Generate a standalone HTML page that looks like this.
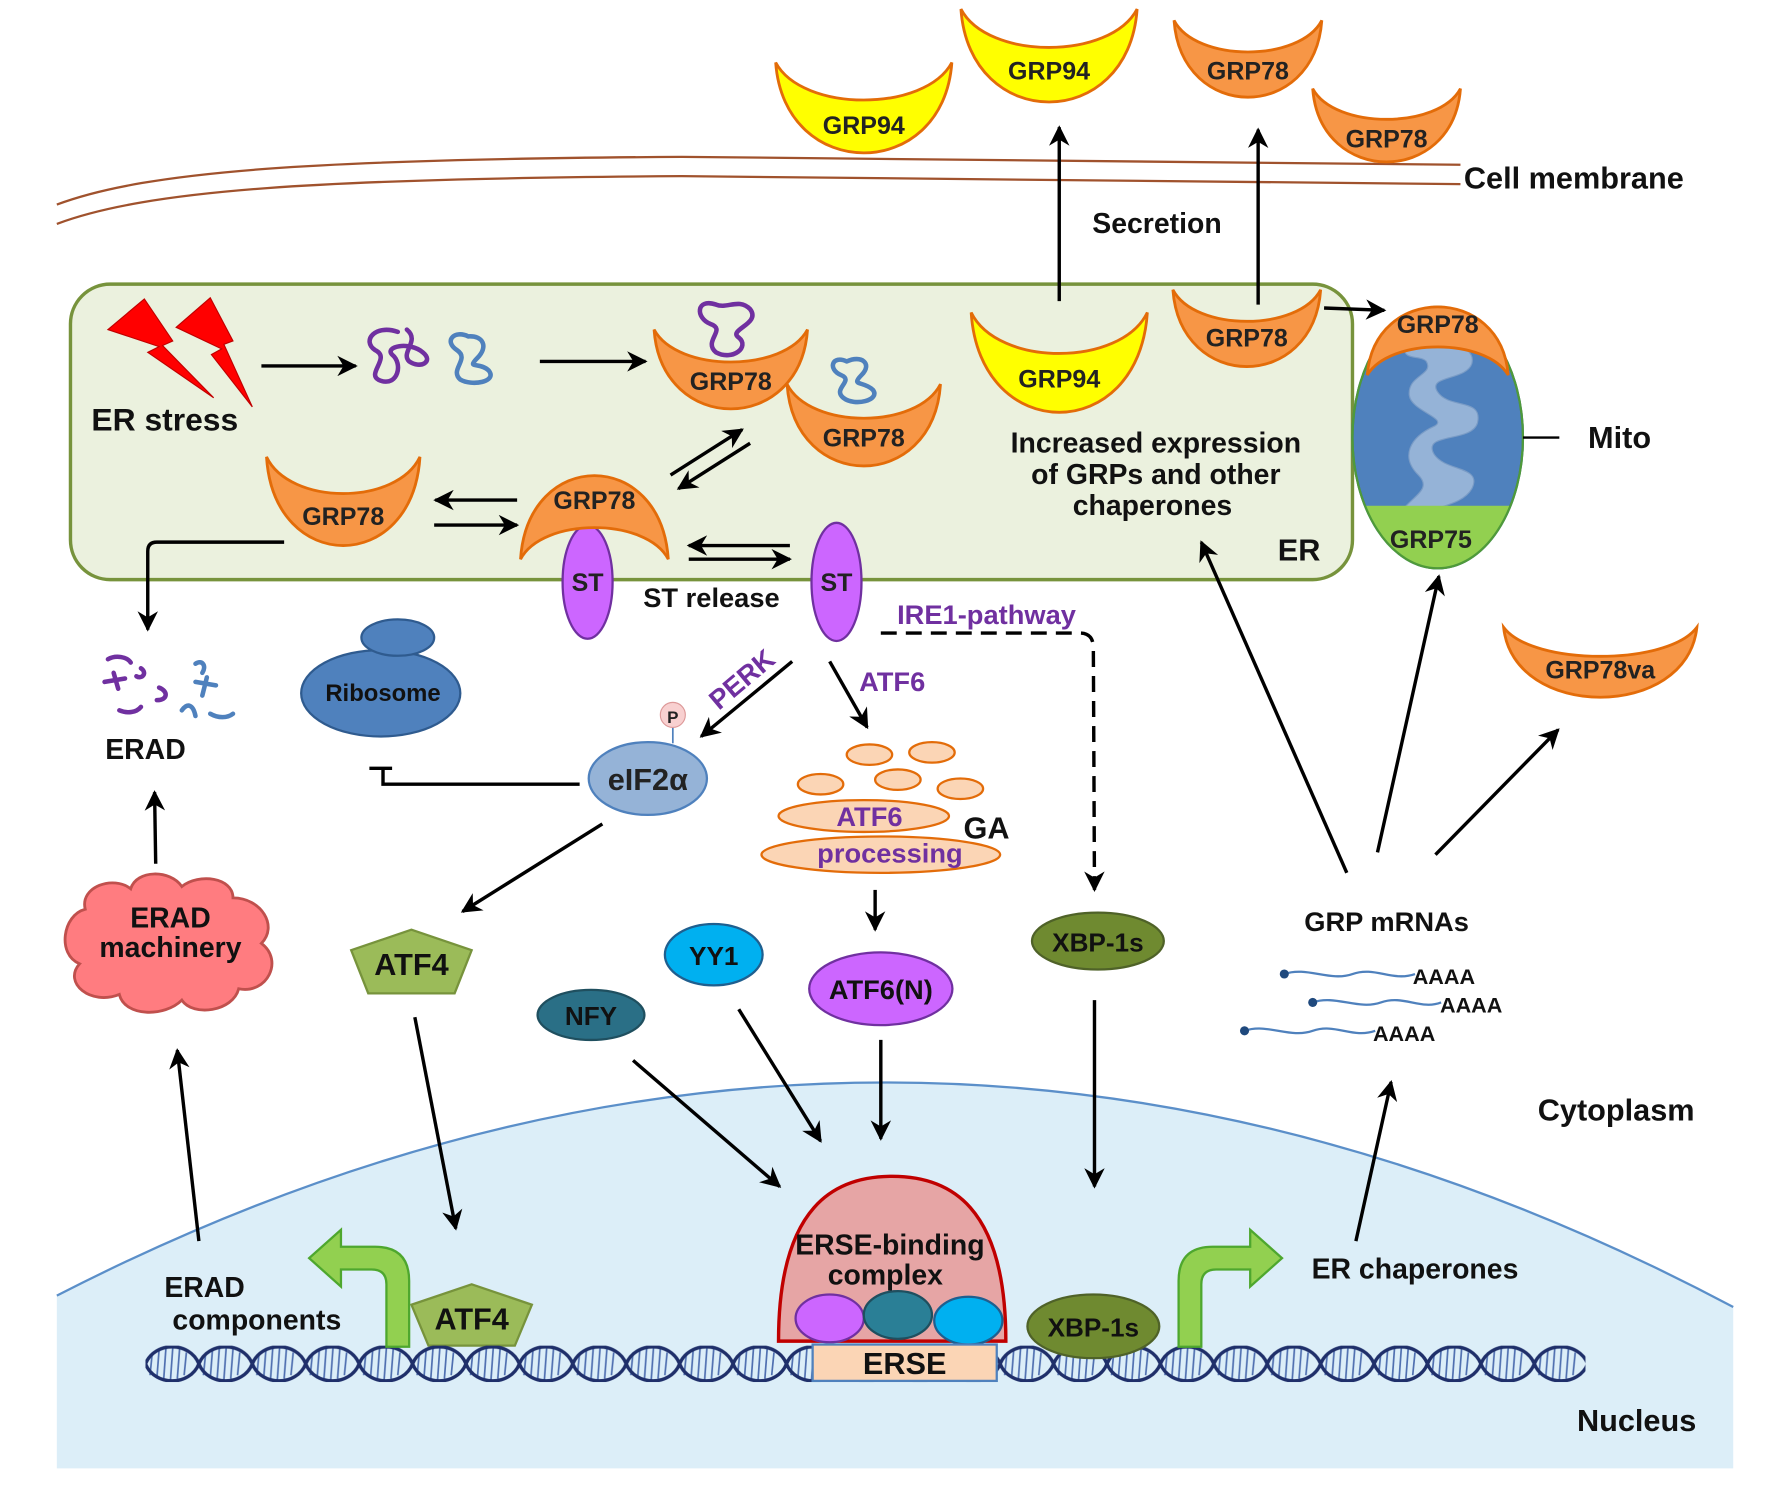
<!DOCTYPE html>
<html><head><meta charset="utf-8"><style>
html,body{margin:0;padding:0;background:#fff;}
svg{display:block;}
text{font-family:"Liberation Sans",sans-serif;font-weight:bold;}
</style></head><body>
<svg width="1773" height="1490" viewBox="0 0 1560 1311" preserveAspectRatio="none" xmlns="http://www.w3.org/2000/svg">
<defs>
<marker id="ah2" viewBox="0 0 10 10" refX="9" refY="5" markerWidth="7" markerHeight="6" orient="auto" markerUnits="strokeWidth"><path d="M0,0 L10,5 L0,10 L3,5Z" fill="#000"/></marker>
<pattern id="dna" x="128" y="1184" width="94" height="32" patternUnits="userSpaceOnUse">
<g stroke="#4f6fb0" stroke-width="1.5">
<line x1="6" y1="6" x2="4" y2="26"/><line x1="12" y1="3" x2="10" y2="29"/><line x1="18" y1="2" x2="16" y2="30"/><line x1="24" y1="2" x2="22" y2="30"/><line x1="30" y1="3" x2="28" y2="29"/><line x1="36" y1="6" x2="34" y2="26"/>
<line x1="53" y1="6" x2="51" y2="26"/><line x1="59" y1="3" x2="57" y2="29"/><line x1="65" y1="2" x2="63" y2="30"/><line x1="71" y1="2" x2="69" y2="30"/><line x1="77" y1="3" x2="75" y2="29"/><line x1="83" y1="6" x2="81" y2="26"/>
</g>
<path d="M0,16 C8,-4 39,-4 47,16 C55,36 86,36 94,16" fill="none" stroke="#1f2f6a" stroke-width="3"/>
<path d="M0,16 C8,36 39,36 47,16 C55,-4 86,-4 94,16" fill="none" stroke="#1f2f6a" stroke-width="3"/>
</pattern>
<clipPath id="mitoclip"><ellipse cx="1265" cy="385" rx="75" ry="115"/></clipPath>
</defs>

<!-- nucleus -->
<path d="M50,1140 Q790,760 1525,1150 L1525,1292 L50,1292Z" fill="#dceef8"/>
<path d="M50,1140 Q790,760 1525,1150" fill="none" stroke="#5b8fc9" stroke-width="2"/>

<!-- cell membrane -->
<path d="M50,180 C130,150 280,140 600,138 L1285,145" fill="none" stroke="#a0522d" stroke-width="2"/>
<path d="M50,197 C130,167 280,157 600,155 L1285,162" fill="none" stroke="#a0522d" stroke-width="2"/>
<text x="1288" y="166" font-size="27" fill="#111">Cell membrane</text>

<!-- ER -->
<rect x="62" y="250" width="1128" height="260" rx="35" fill="#ebf1de" stroke="#77933c" stroke-width="3"/>
<text x="1143" y="493" font-size="27" fill="#111" text-anchor="middle">ER</text>

<!-- crescents -->
<g stroke="#e36c09" stroke-width="2.5">
<path d="M682.5,55 C690,161 830,161 837.5,55 C814,99 706,99 682.5,55Z" fill="#ffff00"/>
<path d="M845.5,8 C853,117 993,117 1000.5,8 C977,53 869,53 845.5,8Z" fill="#ffff00"/>
<path d="M1033,18 C1039.5,108 1156.5,108 1163,18 C1143.5,55 1052.5,55 1033,18Z" fill="#f79646"/>
<path d="M1155,78 C1161.5,164 1278.5,164 1285,78 C1265.5,114 1174.5,114 1155,78Z" fill="#f79646"/>
<path d="M575.5,290 C582,383 704,383 710.5,290 C690,328 596,328 575.5,290Z" fill="#f79646"/>
<path d="M692.5,338 C699,434 821,434 827.5,338 C807,378 713,378 692.5,338Z" fill="#f79646"/>
<path d="M854.5,275 C862,392 1002,392 1009.5,275 C986,323 878,323 854.5,275Z" fill="#ffff00"/>
<path d="M1032,255 C1038.5,345 1155.5,345 1162,255 C1142.5,292 1051.5,292 1032,255Z" fill="#f79646"/>
<path d="M234.5,402 C241,506 363,506 369.5,402 C349,445 255,445 234.5,402Z" fill="#f79646"/>
<path d="M1323,552 C1331.5,634 1484.5,634 1493,552 C1467.5,586 1348.5,586 1323,552Z" fill="#f79646"/>
</g>
<g font-size="22" fill="#222" text-anchor="middle">
<text x="760" y="118">GRP94</text>
<text x="923" y="70">GRP94</text>
<text x="1098" y="70">GRP78</text>
<text x="1220" y="130">GRP78</text>
<text x="643" y="343">GRP78</text>
<text x="760" y="393">GRP78</text>
<text x="932" y="341">GRP94</text>
<text x="1097" y="305">GRP78</text>
<text x="302" y="462">GRP78</text>
<text x="1408" y="597">GRP78va</text>
</g>

<!-- mito -->
<ellipse cx="1265" cy="385" rx="75" ry="115" fill="#4f81bd" stroke="#3a6a9e" stroke-width="2"/>
<path d="M1235,305 C1260,300 1300,300 1295,320 C1290,335 1255,330 1265,345 C1275,360 1305,350 1300,372 C1295,390 1250,380 1262,400 C1272,415 1305,410 1295,430 C1285,448 1250,445 1245,460 L1230,455 C1238,438 1262,432 1248,418 C1232,402 1240,385 1262,375 C1275,368 1242,362 1240,348 C1238,330 1262,330 1255,318 C1250,312 1235,318 1235,305Z" fill="#95b3d7" stroke="#7a9cc6"/>
<rect x="1180" y="445" width="170" height="70" fill="#92d050" clip-path="url(#mitoclip)"/>
<ellipse cx="1265" cy="385" rx="75" ry="115" fill="none" stroke="#4f9a3a" stroke-width="2"/>
<text x="1259" y="482" font-size="22" fill="#222" text-anchor="middle">GRP75</text>
<path d="M1203,330 C1209,250 1321,250 1327,330 C1307,297 1223,297 1203,330Z" fill="#f79646" stroke="#e36c09" stroke-width="2.5"/>
<text x="1265" y="293" font-size="22" fill="#222" text-anchor="middle">GRP78</text>
<line x1="1340" y1="385" x2="1372" y2="385" stroke="#000" stroke-width="2"/>
<text x="1425" y="394" font-size="27" fill="#111" text-anchor="middle">Mito</text>

<!-- ST -->
<ellipse cx="517" cy="512" rx="22" ry="50" fill="#cc66ff" stroke="#7030a0" stroke-width="2"/>
<ellipse cx="736" cy="512" rx="22" ry="52" fill="#cc66ff" stroke="#7030a0" stroke-width="2"/>
<text x="517" y="520" font-size="22" fill="#222" text-anchor="middle">ST</text>
<text x="736" y="520" font-size="22" fill="#222" text-anchor="middle">ST</text>
<path d="M458,492 C464.5,394 581.5,394 588,492 C568.5,455 477.5,455 458,492Z" fill="#f79646" stroke="#e36c09" stroke-width="2.5"/>
<text x="523" y="448" font-size="22" fill="#222" text-anchor="middle">GRP78</text>

<!-- lightning -->
<polygon points="95,290 127,263 152,300 143,304 188,350 130,310 140,305" fill="#ff0000" stroke="#c00000"/>
<polygon points="155,288 185,262 205,300 197,303 222,358 186,312 195,307" fill="#ff0000" stroke="#c00000"/>
<text x="145" y="379" font-size="28" fill="#111" text-anchor="middle" font-weight="normal">ER stress</text>

<!-- proteins -->
<g fill="none" stroke-width="4" stroke-linecap="round">
<path d="M350,292 C330,285 318,300 330,308 C345,315 320,330 335,335 C350,340 355,320 345,312 C338,305 360,300 372,310 C382,318 370,325 360,318 C352,310 370,300 358,290" stroke="#7030a0"/>
<path d="M412,296 C400,290 390,300 402,308 C414,316 395,325 405,334 C415,340 438,336 430,326 C422,318 410,325 420,315 C430,305 425,295 412,296" stroke="#4f81bd"/>
<path d="M630,268 C612,262 612,280 625,285 C640,290 618,300 630,310 C645,318 660,305 650,297 C640,290 670,285 660,272 C650,262 640,272 630,268" stroke="#7030a0"/>
<path d="M745,318 C732,312 728,325 740,330 C752,335 732,342 742,350 C752,358 775,352 768,343 C760,335 748,340 758,330 C768,320 758,312 745,318" stroke="#4f81bd"/>
</g>
<!-- ERAD fragments -->
<g fill="none" stroke-width="4" stroke-linecap="round">
<path d="M95,580 C102,576 112,578 115,583" stroke="#7030a0"/>
<path d="M92,600 L110,597 M100,592 L104,606" stroke="#7030a0"/>
<path d="M124,588 C130,592 125,598 120,595" stroke="#7030a0"/>
<path d="M140,605 C148,608 148,616 138,616" stroke="#7030a0"/>
<path d="M105,625 C112,628 120,627 124,622" stroke="#7030a0"/>
<path d="M172,584 C178,580 182,586 178,592" stroke="#4f81bd"/>
<path d="M172,600 L190,603 M182,596 L178,612" stroke="#4f81bd"/>
<path d="M160,625 C165,618 170,620 172,630" stroke="#4f81bd"/>
<path d="M185,628 C192,632 200,632 205,628" stroke="#4f81bd"/>
</g>
<text x="128" y="668" font-size="25" fill="#111" text-anchor="middle" font-weight="normal">ERAD</text>

<!-- ribosome -->
<ellipse cx="335" cy="610" rx="70" ry="38" fill="#4f81bd" stroke="#2f5b8f" stroke-width="2"/>
<ellipse cx="350" cy="561" rx="32" ry="16" fill="#4f81bd" stroke="#2f5b8f" stroke-width="2"/>
<text x="337" y="617" font-size="21" fill="#111" text-anchor="middle">Ribosome</text>

<!-- eIF2a -->
<ellipse cx="570" cy="685" rx="52" ry="32" fill="#95b3d7" stroke="#4f81bd" stroke-width="2"/>
<text x="570" y="695" font-size="27" fill="#222" text-anchor="middle">eIF2α</text>
<line x1="592" y1="640" x2="592" y2="654" stroke="#4f81bd" stroke-width="1.5"/>
<circle cx="592" cy="629" r="11" fill="#f8d0d0" stroke="#d99"/>
<text x="592" y="636" font-size="15" fill="#222" text-anchor="middle">P</text>
<path d="M510,690 L337,690 L337,676" fill="none" stroke="#000" stroke-width="3"/>
<line x1="325" y1="676" x2="345" y2="676" stroke="#000" stroke-width="3"/>

<!-- Golgi -->
<g fill="#fbd5b5" stroke="#e36c09" stroke-width="2">
<ellipse cx="765" cy="664" rx="20" ry="9"/><ellipse cx="820" cy="662" rx="20" ry="9"/>
<ellipse cx="722" cy="690" rx="20" ry="9"/><ellipse cx="790" cy="686" rx="20" ry="9"/><ellipse cx="845" cy="694" rx="20" ry="9"/>
<ellipse cx="760" cy="718" rx="75" ry="14"/><ellipse cx="775" cy="752" rx="105" ry="16"/>
</g>
<text x="765" y="727" font-size="24" fill="#7030a0" text-anchor="middle" font-weight="normal">ATF6</text>
<text x="783" y="759" font-size="24" fill="#7030a0" text-anchor="middle" font-weight="normal">processing</text>
<text x="868" y="738" font-size="27" fill="#111" text-anchor="middle">GA</text>

<!-- text labels -->
<text x="1018" y="205" font-size="25" fill="#111" text-anchor="middle">Secretion</text>
<g font-size="25" fill="#111" text-anchor="middle" font-weight="normal">
<text x="1017" y="398">Increased  expression</text>
<text x="1017" y="426">of GRPs  and  other</text>
<text x="1014" y="453">chaperones</text>
</g>
<text x="626" y="534" font-size="24" fill="#111" text-anchor="middle" font-weight="normal">ST release</text>
<text x="868" y="549" font-size="24" fill="#7030a0" text-anchor="middle" font-weight="normal">IRE1-pathway</text>
<text x="0" y="0" font-size="24" fill="#7030a0" text-anchor="middle" font-weight="normal" transform="translate(658,604) rotate(-40)">PERK</text>
<text x="785" y="608" font-size="24" fill="#7030a0" text-anchor="middle" font-weight="normal">ATF6</text>

<!-- ERAD machinery cloud -->
<path d="M75,800 C70,780 100,770 115,782 C120,765 150,765 160,780 C175,768 205,772 205,790 C230,790 245,815 230,830 C250,845 235,875 210,870 C205,890 170,895 160,880 C145,895 110,895 105,875 C80,885 55,865 70,848 C50,840 55,805 75,800Z" fill="#ff7c80" stroke="#c0504d" stroke-width="2.5"/>
<text x="150" y="816" font-size="25" fill="#111" text-anchor="middle" font-weight="normal">ERAD</text>
<text x="150" y="842" font-size="25" fill="#111" text-anchor="middle" font-weight="normal">machinery</text>

<!-- pentagons -->
<polygon points="362,818 415,836 400,874 324,874 309,836" fill="#9bbb59" stroke="#77933c" stroke-width="2"/>
<text x="362" y="858" font-size="27" fill="#111" text-anchor="middle" font-weight="normal">ATF4</text>
<polygon points="415,1130 468,1148 453,1184 377,1184 362,1148" fill="#9bbb59" stroke="#77933c" stroke-width="2"/>
<text x="415" y="1170" font-size="27" fill="#111" text-anchor="middle" font-weight="normal">ATF4</text>

<!-- factors -->
<ellipse cx="628" cy="840" rx="43" ry="27" fill="#00b0f0" stroke="#1f5f8f" stroke-width="2"/>
<text x="628" y="849" font-size="23" fill="#111" text-anchor="middle">YY1</text>
<ellipse cx="520" cy="893" rx="47" ry="22" fill="#2a6f86" stroke="#1f4f5f" stroke-width="2"/>
<text x="520" y="902" font-size="23" fill="#111" text-anchor="middle">NFY</text>
<ellipse cx="775" cy="870" rx="63" ry="32" fill="#cc66ff" stroke="#7030a0" stroke-width="2"/>
<text x="775" y="879" font-size="24" fill="#111" text-anchor="middle">ATF6(N)</text>
<ellipse cx="966" cy="828" rx="58" ry="25" fill="#6f8a30" stroke="#4f6228" stroke-width="2"/>
<text x="966" y="837" font-size="23" fill="#111" text-anchor="middle">XBP-1s</text>

<!-- GRP mRNAs -->
<text x="1220" y="819" font-size="24" fill="#111" text-anchor="middle">GRP mRNAs</text>
<g fill="none" stroke="#4f81bd" stroke-width="2">
<path d="M1130,857 C1150,850 1170,864 1190,857 C1210,850 1225,864 1245,857"/>
<path d="M1155,882 C1175,875 1195,889 1215,882 C1235,875 1250,889 1268,882"/>
<path d="M1095,907 C1115,900 1135,914 1155,907 C1175,900 1190,914 1210,907"/>
</g>
<circle cx="1130" cy="857" r="4" fill="#1f497d"/><circle cx="1155" cy="882" r="4" fill="#1f497d"/><circle cx="1095" cy="907" r="4" fill="#1f497d"/>
<g font-size="19" fill="#111" font-weight="normal">
<text x="1243" y="866">AAAA</text><text x="1267" y="891">AAAA</text><text x="1208" y="916">AAAA</text>
</g>

<text x="1422" y="986" font-size="27" fill="#111" text-anchor="middle">Cytoplasm</text>
<text x="1440" y="1259" font-size="27" fill="#111" text-anchor="middle">Nucleus</text>

<!-- DNA -->
<rect x="128" y="1184" width="1267" height="32" fill="url(#dna)"/>

<!-- ERSE complex -->
<path d="M685,1180 C685,1060 735,1035 785,1035 C835,1035 885,1060 885,1180Z" fill="#e6a5a5" stroke="#c00000" stroke-width="3"/>
<text x="783" y="1104" font-size="25" fill="#111" text-anchor="middle" font-weight="normal">ERSE-binding</text>
<text x="779" y="1130" font-size="25" fill="#111" text-anchor="middle" font-weight="normal">complex</text>
<ellipse cx="730" cy="1160" rx="30" ry="21" fill="#cc66ff" stroke="#7030a0" stroke-width="2"/>
<ellipse cx="790" cy="1157" rx="30" ry="21" fill="#2a7f96" stroke="#1f4f5f" stroke-width="2"/>
<ellipse cx="852" cy="1162" rx="30" ry="21" fill="#00b0f0" stroke="#1f5f8f" stroke-width="2"/>
<rect x="715" y="1183" width="162" height="32" fill="#fbd5b5" stroke="#4f81bd" stroke-width="2"/>
<text x="796" y="1209" font-size="27" fill="#111" text-anchor="middle" font-weight="normal">ERSE</text>
<ellipse cx="962" cy="1167" rx="58" ry="28" fill="#6f8a30" stroke="#4f6228" stroke-width="2"/>
<text x="962" y="1176" font-size="23" fill="#111" text-anchor="middle">XBP-1s</text>

<!-- green bent arrows -->
<path d="M340,1185 L340,1130 Q340,1117 327,1117 L300,1117 L300,1132 L272,1107 L300,1082 L300,1097 L330,1097 Q360,1097 360,1127 L360,1185Z" fill="#92d050" stroke="#4ea72e" stroke-width="2"/>
<path d="M1037,1185 L1037,1127 Q1037,1097 1067,1097 L1100,1097 L1100,1082 L1128,1107 L1100,1132 L1100,1117 L1070,1117 Q1057,1117 1057,1130 L1057,1185Z" fill="#92d050" stroke="#4ea72e" stroke-width="2"/>
<text x="180" y="1141" font-size="25" fill="#111" text-anchor="middle" font-weight="normal">ERAD</text>
<text x="226" y="1170" font-size="25" fill="#111" text-anchor="middle" font-weight="normal">components</text>
<text x="1245" y="1125" font-size="25" fill="#111" text-anchor="middle" font-weight="normal">ER chaperones</text>

<!-- arrows -->
<g stroke="#000" stroke-width="3" fill="none" marker-end="url(#ah2)">
<line x1="230" y1="322" x2="313" y2="322"/>
<line x1="475" y1="318" x2="568" y2="318"/>
<line x1="590" y1="418" x2="653" y2="378"/>
<line x1="660" y1="390" x2="597" y2="430"/>
<line x1="455" y1="440" x2="383" y2="440"/>
<line x1="382" y1="462" x2="455" y2="462"/>
<line x1="695" y1="480" x2="606" y2="480"/>
<line x1="606" y1="492" x2="695" y2="492"/>
<path d="M250,477 L138,477 Q130,477 130,485 L130,554"/>
<line x1="932" y1="265" x2="932" y2="112"/>
<line x1="1107" y1="268" x2="1107" y2="114"/>
<line x1="1165" y1="271" x2="1218" y2="273"/>
<line x1="697" y1="582" x2="617" y2="648"/>
<line x1="730" y1="582" x2="763" y2="640"/>
<line x1="530" y1="725" x2="407" y2="802"/>
<line x1="770" y1="783" x2="770" y2="818"/>
<line x1="137" y1="760" x2="136" y2="697"/>
<line x1="175" y1="1092" x2="156" y2="924"/>
<line x1="365" y1="895" x2="401" y2="1081"/>
<line x1="557" y1="933" x2="686" y2="1044"/>
<line x1="650" y1="888" x2="722" y2="1004"/>
<line x1="775" y1="915" x2="775" y2="1002"/>
<line x1="963" y1="880" x2="963" y2="1044"/>
<line x1="1193" y1="1092" x2="1224" y2="952"/>
<line x1="1185" y1="768" x2="1057" y2="477"/>
<line x1="1212" y1="750" x2="1266" y2="507"/>
<line x1="1263" y1="752" x2="1371" y2="642"/>
<path d="M775,557 L950,557 Q962,557 962,570 L963,783" stroke-dasharray="14,8"/>
</g>
</svg>
</body></html>
